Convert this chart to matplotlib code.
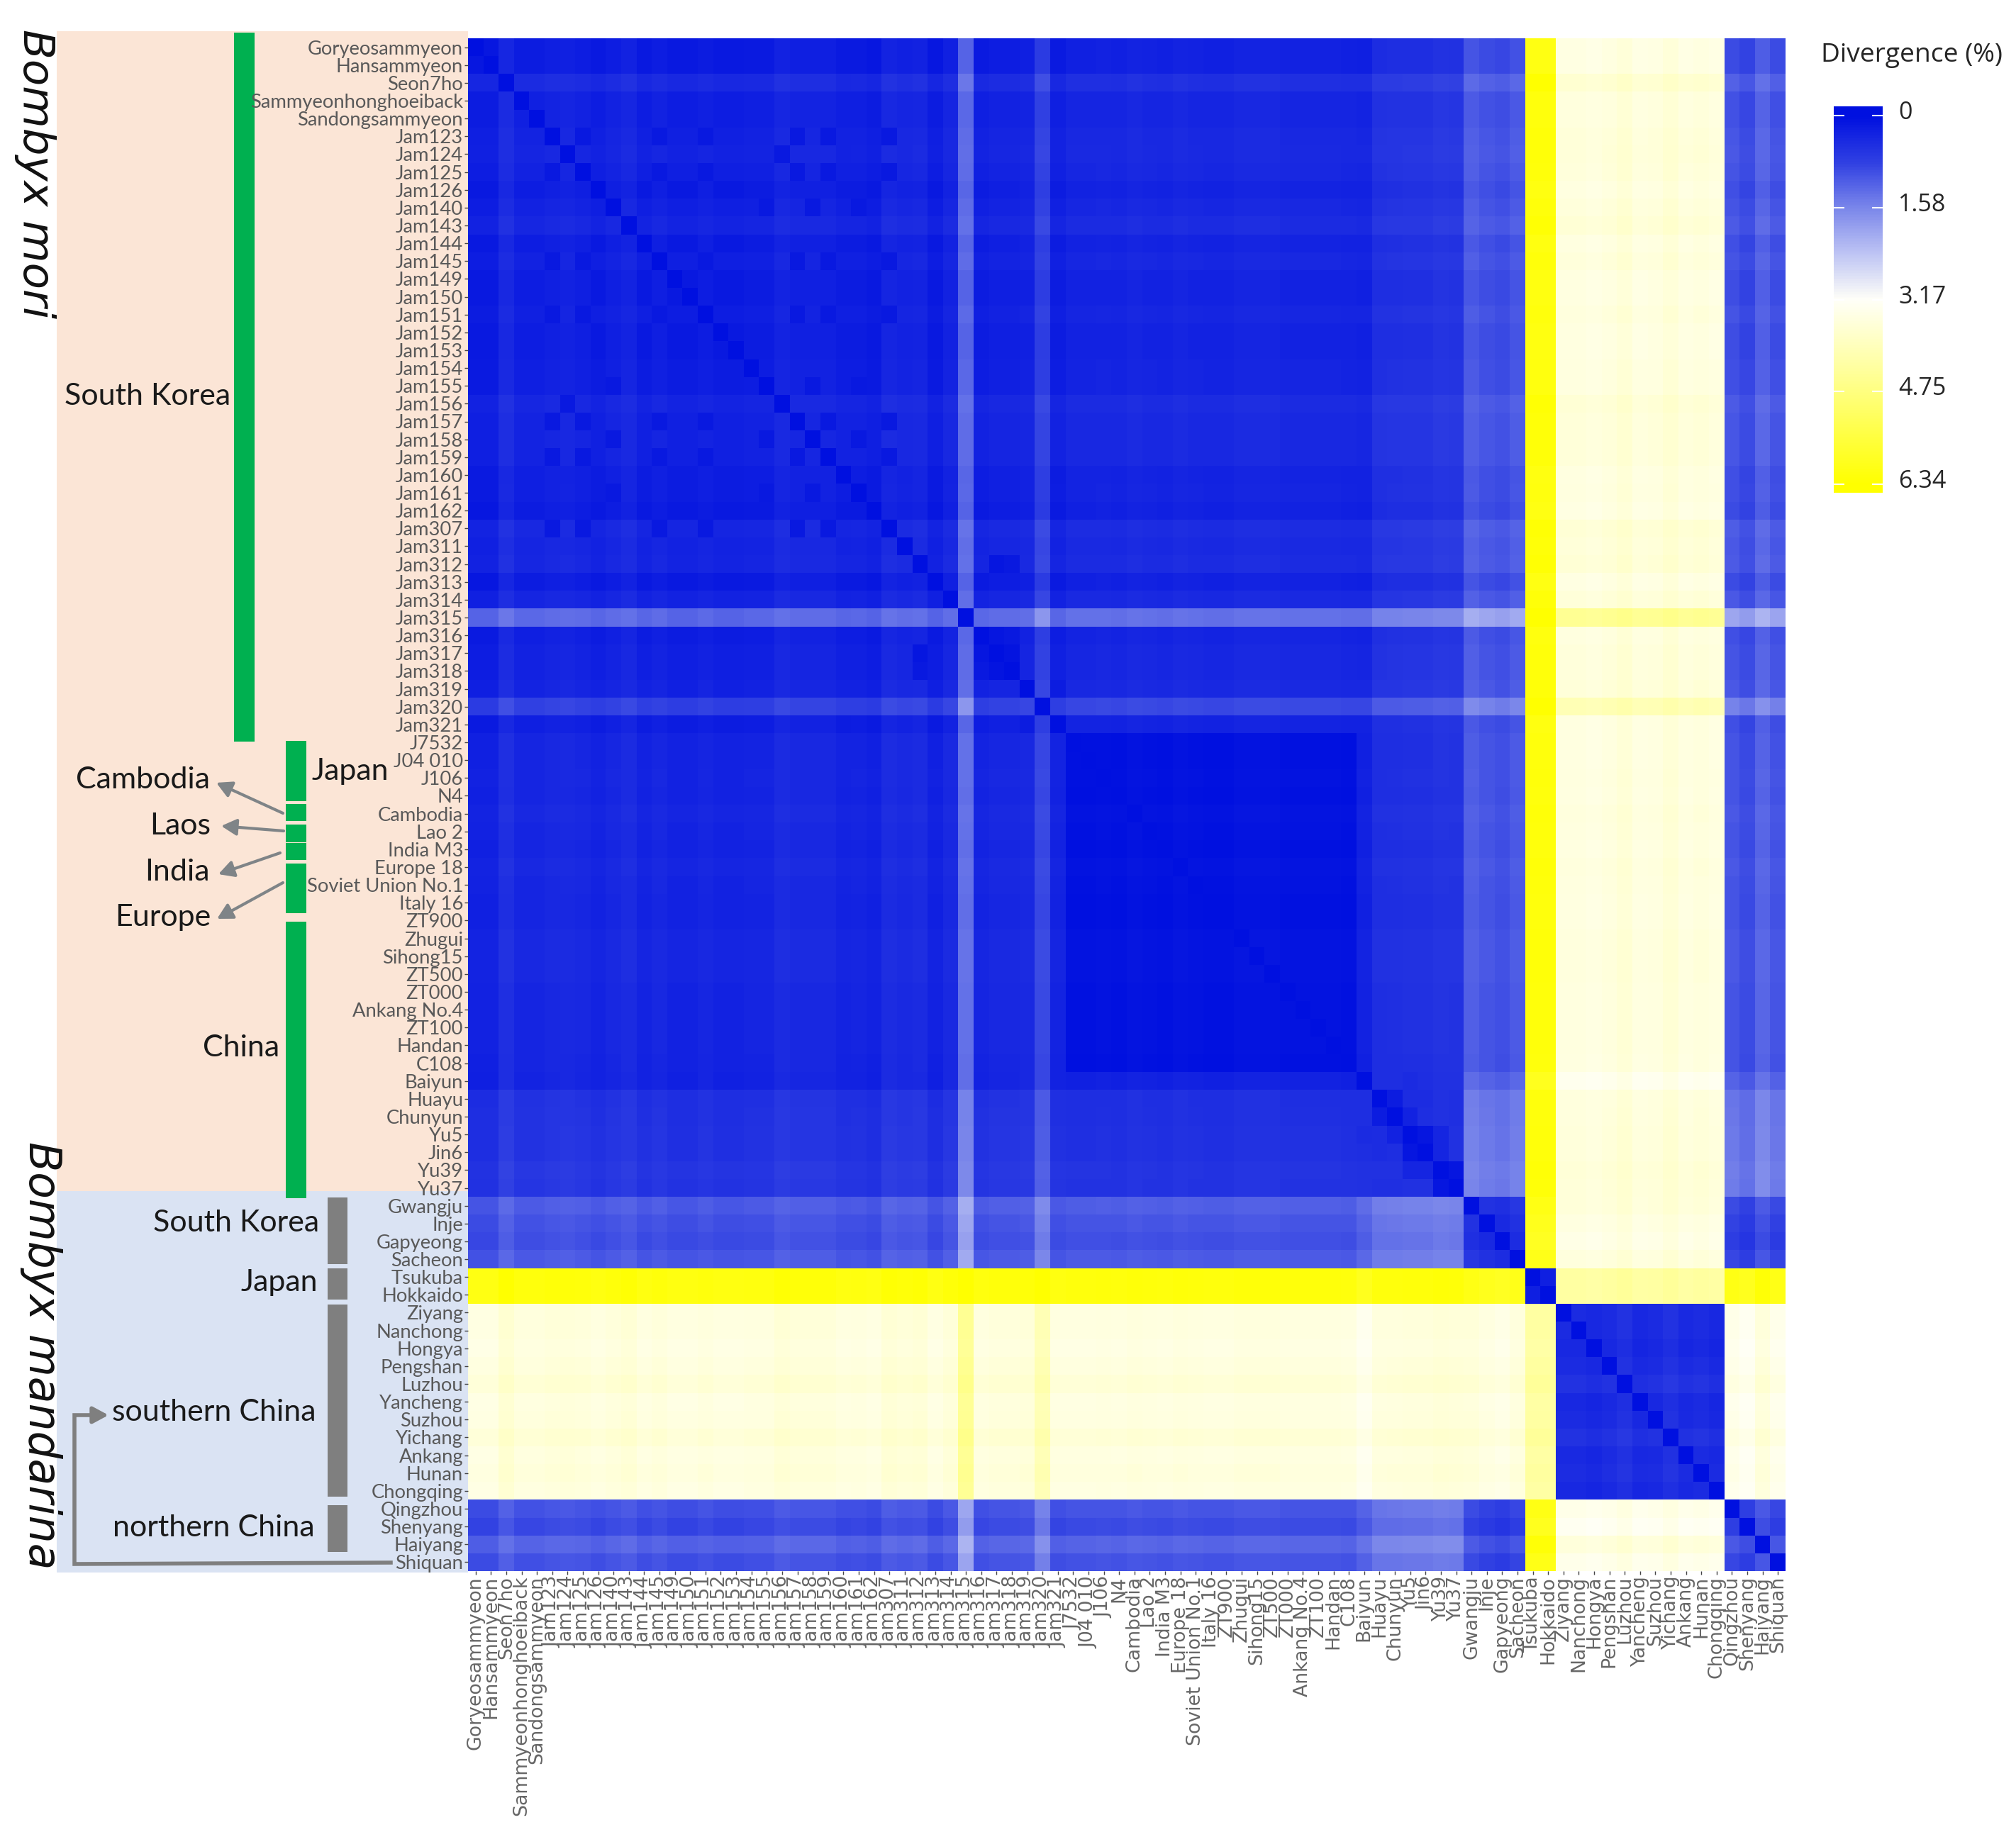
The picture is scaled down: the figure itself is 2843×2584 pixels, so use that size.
# -*- coding: utf-8 -*-
# Pairwise divergence heatmap, Bombyx mori / Bombyx mandarina
import numpy as np
import matplotlib
matplotlib.use('Agg')
import matplotlib.pyplot as plt
from matplotlib.colors import LinearSegmentedColormap, Normalize
from matplotlib.patches import Rectangle

# taxa per block, in plot order
korea_mori = ['Goryeosammyeon', 'Hansammyeon', 'Seon7ho', 'Sammyeonhonghoeiback', 'Sandongsammyeon',
              'Jam123', 'Jam124', 'Jam125', 'Jam126', 'Jam140', 'Jam143', 'Jam144', 'Jam145', 'Jam149',
              'Jam150', 'Jam151', 'Jam152', 'Jam153', 'Jam154', 'Jam155', 'Jam156', 'Jam157', 'Jam158',
              'Jam159', 'Jam160', 'Jam161', 'Jam162', 'Jam307', 'Jam311', 'Jam312', 'Jam313', 'Jam314',
              'Jam315', 'Jam316', 'Jam317', 'Jam318', 'Jam319', 'Jam320', 'Jam321']
world_mori = ['J7532', 'J04 010', 'J106', 'N4', 'Cambodia', 'Lao 2', 'India M3', 'Europe 18',
              'Soviet Union No.1', 'Italy 16', 'ZT900', 'Zhugui', 'Sihong15', 'ZT500', 'ZT000',
              'Ankang No.4', 'ZT100', 'Handan', 'C108']
china_mori = ['Baiyun', 'Huayu', 'Chunyun', 'Yu5', 'Jin6', 'Yu39', 'Yu37']
korea_mand = ['Gwangju', 'Inje', 'Gapyeong', 'Sacheon']
japan_mand = ['Tsukuba', 'Hokkaido']
south_mand = ['Ziyang', 'Nanchong', 'Hongya', 'Pengshan', 'Luzhou', 'Yancheng', 'Suzhou', 'Yichang',
              'Ankang', 'Hunan', 'Chongqing']
north_mand = ['Qingzhou', 'Shenyang', 'Haiyang', 'Shiquan']

shift_korea_mori = [-.1, -.1, .14, -.03, -.03, .02, .04, 0, -.07, 0, .07, -.07, 0, -.08, -.08, -.02,
                    -.08, -.08, -.05, -.05, .07, .02, .02, .02, -.06, -.05, -.1, .09, .04, .07, -.1,
                    .04, .95, -.05, 0, 0, .03, .5, -.06]
shift_world_mori = [-.01, -.01, 0, -.02, .03, 0, -.02, .03, 0, -.02, -.02, .03, .03, .03, 0, 0, 0, 0, -.02]
shift_china_mori = [-.25, -.03, -.02, 0, 0, .06, .04]
shift_korea_mand = [.12, .02, -.04, .08]
shift_japan_mand = [0, 0]
shift_south_mand = [0, 0, -.05, .02, .12, -.03, 0, .12, -.02, .04, -.03]
shift_north_mand = [.02, -.1, .2, 0]

# mean divergence between the seven blocks (%)
block_level = [[.34, .40, .62, 1.02, 6.2, 3.55, 1.02],
               [.40, .05, .55, 1.02, 6.2, 3.5, 1.02],
               [.62, .55, .52, 1.42, 6.2, 3.55, 1.42],
               [1.02, 1.02, 1.42, .45, 5.95, 3.45, .78],
               [6.2, 6.2, 6.2, 5.95, .25, 4.3, 6.05],
               [3.55, 3.5, 3.55, 3.45, 4.3, .45, 3.35],
               [1.02, 1.02, 1.42, .78, 6.05, 3.35, .85]]

# pairs that stand out from their block
close_pairs = [('Jam312', 'Jam317', .12), ('Jam312', 'Jam318', .15), ('Jam316', 'Jam317', .12),
               ('Jam316', 'Jam318', .15), ('Jam317', 'Jam318', .08), ('Jam319', 'Jam321', .2),
               ('Baiyun', 'Huayu', .5), ('Baiyun', 'Chunyun', .52), ('Baiyun', 'Yu5', .45),
               ('Baiyun', 'Jin6', .52), ('Baiyun', 'Yu39', .55), ('Baiyun', 'Yu37', .55),
               ('Huayu', 'Chunyun', .22), ('Chunyun', 'Yu5', .32), ('Yu5', 'Jin6', .1),
               ('Yu5', 'Yu39', .36), ('Jin6', 'Yu39', .36), ('Yu39', 'Yu37', .1)]

# Korean lines that are nearly identical to each other (the checker pattern in the top left)
close_group_1 = ['Jam123', 'Jam125', 'Jam145', 'Jam151', 'Jam157', 'Jam159', 'Jam307']
close_group_2 = ['Jam126', 'Jam144', 'Jam149', 'Jam150', 'Jam152', 'Jam153']
close_group_3 = ['Jam140', 'Jam155', 'Jam158', 'Jam161']
close_group_4 = ['Jam124', 'Jam156']
close_group_value = .15

cbar_ticks = [0, 1.58, 3.17, 4.75, 6.34]

blocks = [korea_mori, world_mori, china_mori, korea_mand, japan_mand, south_mand, north_mand]
shifts = [shift_korea_mori, shift_world_mori, shift_china_mori, shift_korea_mand,
          shift_japan_mand, shift_south_mand, shift_north_mand]

taxa = sum(blocks, [])
shift = np.array(sum(shifts, []))
block_of = np.repeat(np.arange(len(blocks)), [len(b) for b in blocks])
N = len(taxa)

D = np.array(block_level)[block_of][:, block_of] + shift[:, None] + shift[None, :]
for a, b, v in close_pairs:
    D[taxa.index(a), taxa.index(b)] = v
    D[taxa.index(b), taxa.index(a)] = v
for group in [close_group_1, close_group_2, close_group_3, close_group_4]:
    idx = [taxa.index(t) for t in group]
    D[np.ix_(idx, idx)] = close_group_value
np.fill_diagonal(D, 0)
D = np.clip(D, 0, 6.34)

W, H = 2843, 2584
fig = plt.figure(figsize=(W / 100, H / 100), dpi=100)

cmap = LinearSegmentedColormap.from_list('div', [(0, '#0010E0'), (.8 / 6.34, '#3040E2'),
                                                 (1.58 / 6.34, '#7A86EA'), (2.4 / 6.34, '#C0C6F4'),
                                                 (.5, '#FFFFF8'), (.75, '#FFFF80'), (1, '#FFFF00')])
norm = Normalize(0, 6.34)


def box(l, t, r, b):
    return [l / W, 1 - b / H, (r - l) / W, (b - t) / H]


# annotation layer in pixel coordinates
bg = fig.add_axes([0, 0, 1, 1], zorder=0)
bg.set_xlim(0, W)
bg.set_ylim(H, 0)
bg.axis('off')

bg.add_patch(Rectangle((80, 44), 580, 1636, color='#FBE5D6', lw=0))
bg.add_patch(Rectangle((80, 1680), 580, 538, color='#DAE3F3', lw=0))

green = '#00B050'
for x0, x1, y0, y1 in [(330, 359, 46, 1046), (403, 432, 1045, 1130), (403, 432, 1134, 1158),
                       (403, 432, 1163, 1188), (403, 432, 1189, 1213), (403, 432, 1218, 1288),
                       (403, 432, 1300, 1690)]:
    bg.add_patch(Rectangle((x0, y0), x1 - x0, y1 - y0, color=green, lw=0))
for y0, y1 in [(1689, 1783), (1789, 1833), (1840, 2111), (2123, 2189)]:
    bg.add_patch(Rectangle((462, y0), 28, y1 - y0, color='#7F7F7F', lw=0))

labels = [('South Korea', 325, 559), ('Cambodia', 296, 1100), ('Laos', 297, 1165), ('India', 296, 1230),
          ('Europe', 297, 1294), ('Japan', 548, 1088), ('China', 394, 1478), ('South Korea', 450, 1725),
          ('Japan', 448, 1809), ('southern China', 445, 1992), ('northern China', 444, 2155)]
for t, x, y in labels:
    bg.text(x, y, t, ha='right', va='center', fontsize=31, family='Lato', color='#1a1a1a')

bg.text(49, 245, 'Bombyx mori', rotation=-90, ha='center', va='center', fontsize=44,
        style='italic', family='DejaVu Sans', color='#111111')
bg.text(58, 1912, 'Bombyx mandarina', rotation=-90, ha='center', va='center', fontsize=44.3,
        style='italic', family='DejaVu Sans', color='#111111')

arrow = dict(arrowstyle='-|>,head_length=1.3,head_width=0.7', color='#7F8487', lw=3, shrinkA=0, shrinkB=0)
for x0, y0, x1, y1 in [(399, 1147, 305, 1104), (400, 1172, 312, 1165), (395, 1203, 308, 1233),
                       (399, 1245, 306, 1296)]:
    bg.annotate('', xy=(x1, y1), xytext=(x0, y0), arrowprops=arrow)
bg.plot([551, 105, 105, 135], [2204, 2206, 1996, 1996], color='#7F7F7F', lw=4, solid_joinstyle='miter')
bg.annotate('', xy=(153, 1996), xytext=(130, 1996), arrowprops=dict(arrow, lw=4, color='#7F7F7F'))

# heatmap
ax = fig.add_axes(box(660, 54, 2518, 2216), zorder=2)
ax.pcolormesh(np.arange(N + 1), np.arange(N + 1), D, cmap=cmap, norm=norm)
ax.set_xlim(0, N)
ax.set_ylim(N, 0)
for s in ax.spines.values():
    s.set_visible(False)
ax.patch.set_alpha(0)
ax.set_xticks(np.arange(N) + .5)
ax.set_yticks(np.arange(N) + .5)
ax.set_xticklabels(taxa, rotation=90, ha='center', va='top', fontsize=19.3, color='#666666', family='DejaVu Sans')
ax.set_yticklabels(taxa, fontsize=19.7, color='#595959', family='Lato')
ax.tick_params(axis='both', length=3.5, width=1, color='#444444', pad=1.5)

# colour bar
cax = fig.add_axes(box(2586, 150, 2655, 695), zorder=2)
levels = np.linspace(-.16, 6.49, 400)
cax.pcolormesh([0, 1], levels, np.clip((levels[:-1] + levels[1:]) / 2, 0, 6.34)[:, None], cmap=cmap, norm=norm)
cax.set_xlim(0, 1)
cax.set_ylim(6.49, -.16)
cax.set_xticks([])
for s in cax.spines.values():
    s.set_visible(False)
cax.yaxis.tick_right()
cax.set_yticks(cbar_ticks)
cax.set_yticklabels(['0', '1.58', '3.17', '4.75', '6.34'], fontsize=24.5, family='Open Sans', color='#262626')
cax.tick_params(axis='y', which='both', direction='in', length=11, width=1.5, color='white',
                left=True, right=True, pad=16)
for lb in cax.get_yticklabels():
    lb.set_transform(lb.get_transform() + matplotlib.transforms.ScaledTranslation(0, 8 / 100, fig.dpi_scale_trans))

bg.text(2696, 78, 'Divergence (%)', ha='center', va='center', fontsize=26.7, family='Open Sans', color='#262626')

fig.savefig('out.png', dpi=100)
